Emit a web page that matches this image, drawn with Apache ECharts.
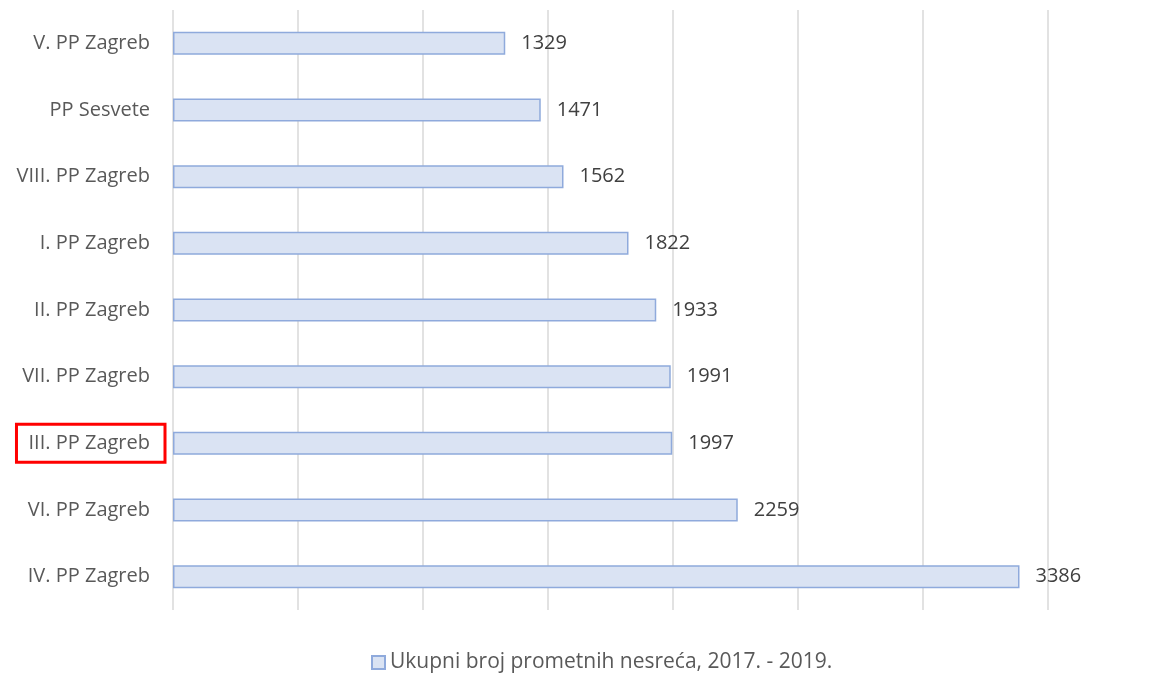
<!DOCTYPE html>
<html>
<head>
<meta charset="utf-8">
<script src="https://cdn.jsdelivr.net/npm/echarts@6/dist/echarts.min.js"></script>
<style>
    html, body { margin: 0; padding: 0; background: #fff; }
    #chart { width: 1159px; height: 673px; }
</style>
</head>
<body>
<div id="chart"></div>
<script>
// kategorije odozgo prema dolje
const categories = [
    'V. PP Zagreb',
    'PP Sesvete',
    'VIII. PP Zagreb',
    'I. PP Zagreb',
    'II. PP Zagreb',
    'VII. PP Zagreb',
    'III. PP Zagreb',
    'VI. PP Zagreb',
    'IV. PP Zagreb'
];
const values = [1329, 1471, 1562, 1822, 1933, 1991, 1997, 2259, 3386];
const highlighted = 'III. PP Zagreb';
const seriesName = 'Ukupni broj prometnih nesreća, 2017. - 2019.';

const font = '"Open Sans", sans-serif';
const labelPad = [9, 15, 9, 12];
const myEcharts = echarts.init(document.getElementById('chart'));
const option = {
    animation: false,
    textStyle: { fontFamily: font },
    grid: {
        left: 173,
        right: 111,
        top: 10,
        bottom: 63
    },
    legend: {
        top: 647,
        left: 366,
        itemWidth: 13,
        itemHeight: 13,
        itemGap: 5,
        icon: 'rect',
        textStyle: { fontSize: 21, color: '#595959', fontFamily: font },
        data: [seriesName]
    },
    xAxis: {
        type: 'value',
        min: 0,
        max: 3500,
        interval: 500,
        axisLabel: { show: false },
        axisLine: { show: false },
        axisTick: { show: false },
        splitLine: { lineStyle: { color: '#d9d9d9', width: 1.5 } }
    },
    yAxis: {
        type: 'category',
        inverse: true,
        data: categories,
        axisLine: { show: false },
        axisTick: { show: false },
        axisLabel: {
            margin: 8,
            fontSize: 20,
            color: '#595959',
            fontFamily: font,
            formatter: function (v) {
                return v === highlighted ? '{box|' + v + '}' : '{n|' + v + '}';
            },
            rich: {
                n: {
                    fontSize: 20,
                    color: '#595959',
                    fontFamily: font,
                    padding: labelPad
                },
                box: {
                    fontSize: 20,
                    color: '#595959',
                    fontFamily: font,
                    borderColor: '#ff0000',
                    borderWidth: 3,
                    padding: labelPad
                }
            }
        }
    },
    series: [
        {
            name: seriesName,
            type: 'bar',
            barWidth: 23,
            data: values,
            itemStyle: {
                color: '#dae3f3',
                borderColor: '#8faadc',
                borderWidth: 1.5
            },
            label: {
                show: true,
                position: 'right',
                distance: 16,
                fontSize: 20,
                color: '#404040',
                fontFamily: font
            }
        }
    ]
};
myEcharts.setOption(option);
</script>
</body>
</html>
